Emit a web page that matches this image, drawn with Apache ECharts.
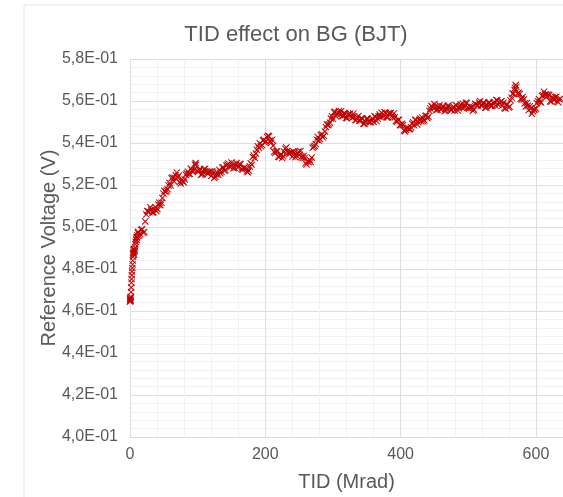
<!DOCTYPE html>
<html>
<head>
<meta charset="utf-8">
<script src="https://cdn.jsdelivr.net/npm/echarts@6/dist/echarts.min.js"></script>
<style>
html,body{margin:0;padding:0;background:#fff;}
#chart{width:563px;height:497px;}
</style>
</head>
<body>
<div id="chart"></div>
<script>
// Title and axis texts
const titleText = 'TID effect on BG (BJT)';
const xAxisName = 'TID (Mrad)';
const yAxisName = 'Reference Voltage (V)';
const xTicks = [0, 200, 400, 600];
const yTicks = [0.40, 0.42, 0.44, 0.46, 0.48, 0.50, 0.52, 0.54, 0.56, 0.58];

// Measurement run A: TID (Mrad)
const tidA = [
  0, 0.1, 0.3, 0.5, 0.6, 0.9, 1.2, 1.5, 1.8, 2.1, 2.4, 2.7, 3.0, 3.4, 3.8, 4.2, 4.6, 4.8, 5, 5.2, 5.5, 6, 6.2, 6.5, 7, 7.5, 8, 8.5, 9, 9.5, 10, 10.5, 11, 11.5,
  12, 15, 18, 21, 24, 27, 30, 33, 36, 39, 42, 45, 48, 51, 54, 57, 60, 63, 66, 69,
  72, 75, 78, 81, 84, 87, 90, 93, 96, 97, 99, 102, 105, 108, 111, 114, 117, 120, 123, 126, 129,
  132, 135, 138, 141, 144, 147, 150, 153, 156, 159, 162, 165, 168, 171, 174, 177, 180, 183, 186, 189,
  192, 195, 198, 201, 204, 207, 210, 213, 216, 219, 222, 225, 228, 231, 234, 237, 240, 243, 246, 249,
  252, 255, 258, 261, 264, 267, 270, 273, 276, 279, 282, 285, 288, 291, 294, 297, 300, 303, 306, 309,
  312, 315, 318, 321, 324, 327, 330, 333, 336, 339, 342, 345, 348, 351, 354, 357, 360, 363, 366, 369,
  372, 375, 378, 381, 384, 387, 390, 393, 396, 399, 402, 405, 408, 411, 414, 417, 420, 423, 426, 429,
  432, 435, 438, 441, 444, 447, 450, 453, 456, 459, 462, 465, 468, 471, 474, 477, 480, 483, 486, 489,
  492, 495, 498, 501, 504, 507, 510, 513, 516, 519, 522, 525, 528, 531, 534, 537, 540, 543, 546, 549,
  552, 555, 558, 561, 564, 567, 569, 570, 571, 573, 576, 579, 582, 585, 588, 591, 594, 597, 600, 603, 606, 609,
  612, 615, 618, 621, 624, 627, 630, 633, 636
];
// Measurement run A: reference voltage (V)
const voltageA = [
  0.4645, 0.4658, 0.4655, 0.4648, 0.4662, 0.4650, 0.4668, 0.4690, 0.4712, 0.4735, 0.4752, 0.4770, 0.4788, 0.4805, 0.4822, 0.4840, 0.4858, 0.4876, 0.4870, 0.4892, 0.4880, 0.4868, 0.4895, 0.4890, 0.4885, 0.4902, 0.4918, 0.4930, 0.4942, 0.4950, 0.4938, 0.4952, 0.4960, 0.4972,
  0.4977, 0.4966, 0.4989, 0.4976, 0.5060, 0.5074, 0.5094, 0.5069, 0.5084, 0.5076, 0.5106, 0.5104, 0.5138, 0.5171, 0.5173, 0.5198, 0.5198, 0.5236, 0.5234, 0.5259,
  0.5244, 0.5207, 0.5218, 0.5226, 0.5255, 0.5252, 0.5278, 0.5262, 0.5296, 0.5305, 0.5268, 0.5271, 0.5249, 0.5265, 0.5277, 0.5257, 0.5263, 0.5243, 0.5259, 0.5239, 0.5259,
  0.5272, 0.5263, 0.5283, 0.5272, 0.5297, 0.5288, 0.5307, 0.5280, 0.5297, 0.5285, 0.5300, 0.5277, 0.5281, 0.5277, 0.5261, 0.5288, 0.5296, 0.5340, 0.5350, 0.5385,
  0.5399, 0.5391, 0.5415, 0.5408, 0.5434, 0.5411, 0.5415, 0.5358, 0.5359, 0.5335, 0.5342, 0.5328, 0.5358, 0.5379, 0.5352, 0.5355, 0.5336, 0.5354, 0.5342, 0.5359,
  0.5362, 0.5328, 0.5328, 0.5298, 0.5309, 0.5310, 0.5377, 0.5387, 0.5416, 0.5412, 0.5437, 0.5427, 0.5455, 0.5488, 0.5489, 0.5517, 0.5515, 0.5549, 0.5537, 0.5552,
  0.5551, 0.5528, 0.5539, 0.5518, 0.5538, 0.5526, 0.5540, 0.5509, 0.5522, 0.5506, 0.5518, 0.5492, 0.5504, 0.5517, 0.5499, 0.5511, 0.5500, 0.5525, 0.5516, 0.5536,
  0.5544, 0.5530, 0.5543, 0.5522, 0.5541, 0.5527, 0.5541, 0.5505, 0.5509, 0.5486, 0.5492, 0.5460, 0.5463, 0.5472, 0.5467, 0.5492, 0.5484, 0.5509, 0.5499, 0.5517,
  0.5521, 0.5508, 0.5530, 0.5525, 0.5564, 0.5571, 0.5586, 0.5557, 0.5572, 0.5560, 0.5575, 0.5552, 0.5566, 0.5578, 0.5558, 0.5568, 0.5555, 0.5577, 0.5566, 0.5583,
  0.5587, 0.5573, 0.5591, 0.5564, 0.5569, 0.5553, 0.5587, 0.5578, 0.5593, 0.5579, 0.5592, 0.5568, 0.5582, 0.5594, 0.5576, 0.5590, 0.5578, 0.5603, 0.5591, 0.5599,
  0.5592, 0.5564, 0.5584, 0.5573, 0.5616, 0.5635, 0.5662, 0.5676, 0.5668, 0.5636, 0.5633, 0.5607, 0.5607, 0.5574, 0.5577, 0.5575, 0.5539, 0.5560, 0.5564, 0.5598, 0.5597, 0.5624,
  0.5644, 0.5631, 0.5631, 0.5599, 0.5618, 0.5605, 0.5620, 0.5594, 0.5611
];

// Measurement run B (interleaved samples): TID (Mrad)
const tidB = [
  13.5, 16.5, 19.5, 22.5, 25.5, 28.5, 31.5, 34.5, 37.5, 40.5, 43.5, 46.5, 49.5, 52.5, 55.5, 58.5, 61.5, 64.5, 67.5, 70.5,
  73.5, 76.5, 79.5, 82.5, 85.5, 88.5, 91.5, 94.5, 97.5, 100.5, 103.5, 106.5, 109.5, 112.5, 115.5, 118.5, 121.5, 124.5, 127.5, 130.5,
  133.5, 136.5, 139.5, 142.5, 145.5, 148.5, 151.5, 154.5, 157.5, 160.5, 163.5, 166.5, 169.5, 172.5, 175.5, 178.5, 181.5, 184.5, 187.5, 190.5,
  193.5, 196.5, 199.5, 202.5, 205.5, 208.5, 211.5, 214.5, 217.5, 220.5, 223.5, 226.5, 229.5, 232.5, 235.5, 238.5, 241.5, 244.5, 247.5, 250.5,
  253.5, 256.5, 259.5, 262.5, 265.5, 268.5, 271.5, 274.5, 277.5, 280.5, 283.5, 286.5, 289.5, 292.5, 295.5, 298.5, 301.5, 304.5, 307.5, 310.5,
  313.5, 316.5, 319.5, 322.5, 325.5, 328.5, 331.5, 334.5, 337.5, 340.5, 343.5, 346.5, 349.5, 352.5, 355.5, 358.5, 361.5, 364.5, 367.5, 370.5,
  373.5, 376.5, 379.5, 382.5, 385.5, 388.5, 391.5, 394.5, 397.5, 400.5, 403.5, 406.5, 409.5, 412.5, 415.5, 418.5, 421.5, 424.5, 427.5, 430.5,
  433.5, 436.5, 439.5, 442.5, 445.5, 448.5, 451.5, 454.5, 457.5, 460.5, 463.5, 466.5, 469.5, 472.5, 475.5, 478.5, 481.5, 484.5, 487.5, 490.5,
  493.5, 496.5, 499.5, 502.5, 505.5, 508.5, 511.5, 514.5, 517.5, 520.5, 523.5, 526.5, 529.5, 532.5, 535.5, 538.5, 541.5, 544.5, 547.5, 550.5,
  553.5, 556.5, 559.5, 562.5, 565.5, 568.5, 574.5, 577.5, 580.5, 583.5, 586.5, 589.5, 592.5, 595.5, 598.5, 601.5, 604.5, 607.5, 610.5, 613.5,
  616.5, 619.5, 622.5, 625.5, 628.5, 631.5, 634.5
];
// Measurement run B: reference voltage (V)
const voltageB = [
  0.4960, 0.4987, 0.4973, 0.5026, 0.5076, 0.5072, 0.5082, 0.5070, 0.5094, 0.5086, 0.5115, 0.5115, 0.5159, 0.5168, 0.5180, 0.5209, 0.5232, 0.5219, 0.5247, 0.5235,
  0.5214, 0.5222, 0.5212, 0.5249, 0.5263, 0.5253, 0.5270, 0.5273, 0.5296, 0.5264, 0.5270, 0.5251, 0.5275, 0.5263, 0.5254, 0.5264, 0.5266, 0.5233, 0.5250, 0.5249,
  0.5256, 0.5283, 0.5268, 0.5293, 0.5302, 0.5285, 0.5294, 0.5282, 0.5305, 0.5287, 0.5298, 0.5273, 0.5283, 0.5265, 0.5269, 0.5303, 0.5333, 0.5329, 0.5368, 0.5376,
  0.5384, 0.5413, 0.5402, 0.5429, 0.5432, 0.5401, 0.5387, 0.5352, 0.5361, 0.5333, 0.5345, 0.5337, 0.5373, 0.5362, 0.5348, 0.5356, 0.5360, 0.5332, 0.5351, 0.5344,
  0.5334, 0.5338, 0.5303, 0.5312, 0.5319, 0.5331, 0.5382, 0.5395, 0.5428, 0.5419, 0.5442, 0.5435, 0.5476, 0.5485, 0.5497, 0.5527, 0.5547, 0.5527, 0.5545, 0.5535,
  0.5528, 0.5543, 0.5519, 0.5536, 0.5541, 0.5521, 0.5525, 0.5509, 0.5528, 0.5507, 0.5515, 0.5492, 0.5515, 0.5504, 0.5499, 0.5516, 0.5527, 0.5504, 0.5527, 0.5524,
  0.5526, 0.5546, 0.5523, 0.5540, 0.5543, 0.5522, 0.5523, 0.5501, 0.5511, 0.5484, 0.5486, 0.5456, 0.5472, 0.5466, 0.5474, 0.5499, 0.5511, 0.5488, 0.5509, 0.5503,
  0.5503, 0.5529, 0.5518, 0.5553, 0.5577, 0.5566, 0.5572, 0.5558, 0.5580, 0.5562, 0.5573, 0.5553, 0.5576, 0.5564, 0.5557, 0.5572, 0.5581, 0.5555, 0.5575, 0.5569,
  0.5569, 0.5592, 0.5568, 0.5575, 0.5570, 0.5558, 0.5583, 0.5579, 0.5600, 0.5580, 0.5590, 0.5569, 0.5592, 0.5581, 0.5577, 0.5595, 0.5605, 0.5581, 0.5596, 0.5579,
  0.5567, 0.5584, 0.5569, 0.5603, 0.5635, 0.5651, 0.5639, 0.5611, 0.5619, 0.5589, 0.5590, 0.5557, 0.5565, 0.5551, 0.5559, 0.5589, 0.5608, 0.5593, 0.5627, 0.5631,
  0.5624, 0.5627, 0.5597, 0.5614, 0.5618, 0.5599, 0.5607
];

const points = tidA.map((t, i) => [t, voltageA[i]])
  .concat(tidB.map((t, i) => [t, voltageB[i]]));

const textColor = '#595959';
const fontFamily = '"Liberation Sans", Arial, sans-serif';

function fmtSci(v) {
  const m = (v * 10).toFixed(1).replace('.', ',');
  return m + 'E-01';
}

const chart = echarts.init(document.getElementById('chart'), null, { renderer: 'canvas' });
chart.setOption({
  animation: false,
  backgroundColor: '#ffffff',
  title: {
    text: titleText,
    left: 291,
    textAlign: 'center',
    top: 19,
    textStyle: { color: textColor, fontSize: 22, fontWeight: 'normal', fontFamily: fontFamily }
  },
  graphic: [{
    type: 'polyline',
    silent: true,
    shape: { points: [[24, 497], [24, 5], [563, 5]] },
    style: { stroke: '#e6e6e6', lineWidth: 1, fill: null }
  }],
  grid: { left: 130, top: 59, width: 438, height: 378, containLabel: false },
  xAxis: {
    type: 'value',
    min: 0,
    max: 640,
    interval: 200,
    name: xAxisName,
    nameLocation: 'middle',
    nameGap: 35,
    nameMoveOverlap: false,
    nameTextStyle: { color: textColor, fontSize: 20, fontFamily: fontFamily },
    axisLine: { show: true, lineStyle: { color: '#d9d9d9' } },
    axisTick: { show: false },
    axisLabel: { color: textColor, fontSize: 16, fontFamily: fontFamily, margin: 10, showMaxLabel: false,
      formatter: v => (xTicks.indexOf(v) >= 0 ? String(v) : '') },
    splitLine: { show: true, lineStyle: { color: '#dedede' } },
    minorTick: { show: false, splitNumber: 5 },
    minorSplitLine: { show: true, lineStyle: { color: '#f2f2f2' } }
  },
  yAxis: {
    type: 'value',
    min: 0.40,
    max: 0.58,
    interval: 0.02,
    name: yAxisName,
    nameLocation: 'middle',
    nameGap: 71,
    nameMoveOverlap: false,
    nameTextStyle: { color: textColor, fontSize: 20, fontFamily: fontFamily },
    axisLine: { show: false },
    axisTick: { show: false },
    axisLabel: { color: textColor, fontSize: 16, fontFamily: fontFamily, margin: 12,
      formatter: v => fmtSci(v) },
    splitLine: { show: true, lineStyle: { color: '#dedede' } },
    minorTick: { show: false, splitNumber: 5 },
    minorSplitLine: { show: true, lineStyle: { color: '#f2f2f2' } }
  },
  series: [{
    type: 'scatter',
    data: points,
    symbol: 'path://M0,1L1,0L5,4L9,0L10,1L6,5L10,9L9,10L5,6L1,10L0,9L4,5Z',
    symbolSize: 7,
    itemStyle: { color: '#C00000', opacity: 1 },
    clip: true
  }]
});
</script>
</body>
</html>
